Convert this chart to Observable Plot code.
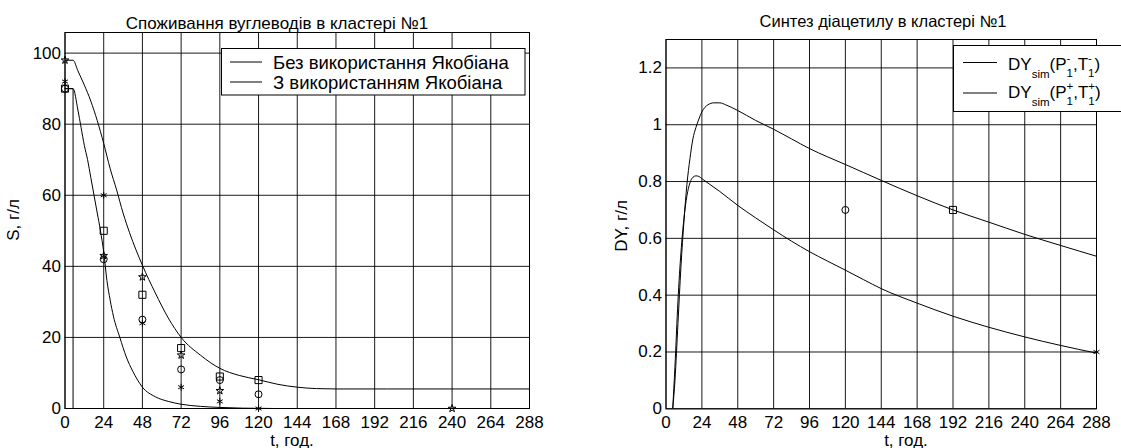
<!DOCTYPE html>
<html>
<head>
<meta charset="utf-8">
<script src="https://cdn.jsdelivr.net/npm/d3@7"></script>
<script src="https://cdn.jsdelivr.net/npm/@observablehq/plot@0.6"></script>
<style>
  html, body { margin: 0; padding: 0; background: #fff; overflow: hidden; }
  #wrap { position: relative; width: 1121px; height: 448px; }
  #left { position: absolute; left: 0; top: 0; }
  #right { position: absolute; left: 560px; top: 0; }
  svg text { font-family: "Liberation Sans", Arial, sans-serif; }
</style>
</head>
<body>
<div id="wrap"><div id="left"></div><div id="right"></div></div>
<script>
// ---------- data ----------
const tTicks = [0, 24, 48, 72, 96, 120, 144, 168, 192, 216, 240, 264, 288];
const sTicks = [0, 20, 40, 60, 80, 100];
const dyTicks = [0, 0.2, 0.4, 0.6, 0.8, 1, 1.2];

const titleLeft = "Споживання вуглеводів в кластері №1";
const titleRight = "Синтез діацетилу в кластері №1";
const xLabel = "t, год.";
const yLabelLeft = "S, г/л";
const yLabelRight = "DY, г/л";
const legendLeft = ["Без використання Якобіана", "З використанням Якобіана"];

// Left: substrate curves
const sNoJacT = [0, 5, 8, 12, 16, 20, 24, 28, 32, 36, 40, 48, 56, 64, 72, 84, 96, 108, 120, 132, 144, 156, 168, 200, 240, 288];
const sNoJacV = [98, 98, 95, 91, 86.5, 81, 74.6, 67.5, 61.5, 55, 49.5, 40.3, 32.5, 25.5, 20, 15, 11.3, 9.3, 8.1, 6.8, 6.0, 5.6, 5.5, 5.5, 5.5, 5.5];
const sJacT = [0, 5, 8, 10, 12, 14, 16, 18, 20, 22, 24, 26, 28, 30, 34, 38, 42, 48, 56, 64, 72, 84, 96, 110, 130, 288];
const sJacV = [90, 90, 84, 79, 74, 70, 65, 60, 55, 50, 44, 36, 30.5, 26, 20, 14.5, 10.5, 6, 3.3, 2.0, 1.2, 0.6, 0.3, 0.1, 0, 0];
const sStepT = [0, 5, 5, 288];
const sStepV = [90, 90, 0, 0];

// Left: experimental markers
const obsT = [0, 24, 48, 72, 96, 120];
const circleS = [90, 42, 25, 11, 8, 4];
const squareS = [90, 50, 32, 17, 9, 8];
const asteriskS = [92, 60, 24, 6, 2, 0];
const starT = [0, 24, 48, 72, 96, 240];
const starS = [98, 43, 37, 15, 5, 0];

// Right: diacetyl curves
const dyAT = [4.5, 6, 8, 10, 12, 14, 16, 18, 20, 22, 24, 28, 32, 36, 40, 48, 60, 72, 84, 96, 108, 120, 132, 144, 168, 192, 216, 240, 264, 288];
const dyAV = [0, 0.1, 0.3, 0.5, 0.66, 0.79, 0.88, 0.95, 0.99, 1.02, 1.045, 1.07, 1.077, 1.077, 1.07, 1.05, 1.015, 0.984, 0.95, 0.916, 0.887, 0.86, 0.832, 0.804, 0.75, 0.70, 0.657, 0.614, 0.575, 0.537];
const dyBT = [4.5, 6, 8, 10, 12, 14, 16, 18, 20, 22, 24, 36, 48, 60, 72, 84, 96, 108, 120, 132, 144, 168, 192, 216, 240, 264, 288];
const dyBV = [0, 0.15, 0.38, 0.55, 0.67, 0.75, 0.795, 0.815, 0.82, 0.818, 0.81, 0.765, 0.716, 0.672, 0.630, 0.59, 0.553, 0.52, 0.488, 0.455, 0.423, 0.372, 0.326, 0.287, 0.253, 0.223, 0.196];
const dyCircleT = [120], dyCircleV = [0.7];
const dySquareT = [192], dySquareV = [0.7];
const dyAsterT = [288], dyAsterV = [0.2];

// ---------- helpers ----------
const pts = (ts, vs) => ts.map((t, i) => ({t, v: vs[i]}));
const FONT = "'Liberation Sans', Arial, sans-serif";
const FS = 17;

function dots(ts, vs, symbol, r = 3.5) {
  return Plot.dot(pts(ts, vs), {x: "t", y: "v", symbol, r, stroke: "black", fill: "none", strokeWidth: 1});
}
function curve(ts, vs, c = "monotone-x") {
  return Plot.line(pts(ts, vs), {x: "t", y: "v", stroke: "black", strokeWidth: 1, curve: c, clip: true});
}

function makeChart({width, mL, mR, mT, mB, yDomain, yTicks, marks}) {
  return Plot.plot({
    width, height: 448,
    marginLeft: mL, marginRight: mR, marginTop: mT, marginBottom: mB,
    style: {fontFamily: FONT, fontSize: FS + "px", color: "black", background: "white", overflow: "visible"},
    x: {domain: [0, 288], ticks: tTicks, tickSize: 0, tickPadding: 7, label: null, tickFormat: d => String(d)},
    y: {domain: yDomain, ticks: yTicks, tickSize: 0, tickPadding: 4, label: null, tickFormat: d => String(+d.toFixed(2))},
    marks: [
      Plot.gridX(tTicks, {stroke: "black", strokeOpacity: 0.9, strokeWidth: 1}),
      Plot.gridY(yTicks, {stroke: "black", strokeOpacity: 0.9, strokeWidth: 1}),
      ...marks,
      Plot.frame({stroke: "black", strokeWidth: 1})
    ]
  });
}

function addText(svg, x, y, txt, opts = {}) {
  const t = svg.append("text")
    .attr("x", x).attr("y", y)
    .attr("font-family", FONT)
    .attr("font-size", opts.fs || FS)
    .attr("text-anchor", opts.anchor || "start")
    .attr("fill", "black")
    .text(txt);
  if (opts.rotate) t.attr("transform", `rotate(-90,${x},${y})`);
  return t;
}

function richText(g, x, y, parts, fs) {
  let cx = x;
  const small = 11.5;
  for (const p of parts) {
    if (p.stack) {
      const a = addText(g, cx, y - 8, p.sup, {fs: small});
      const b = addText(g, cx, y + 7, p.sub, {fs: small});
      cx += Math.max(a.node().getComputedTextLength(), b.node().getComputedTextLength());
    } else if (p.sub) {
      const t = addText(g, cx, y + 8, p.t, {fs: small});
      cx += t.node().getComputedTextLength();
    } else {
      const t = addText(g, cx, y, p.t, {fs});
      cx += t.node().getComputedTextLength();
    }
  }
}

// ---------- left chart ----------
const left = makeChart({
  width: 560, mL: 64.5, mR: 31, mT: 32, mB: 40,
  yDomain: [0, 105.8], yTicks: sTicks,
  marks: [
    curve(sStepT, sStepV, "linear"),
    curve(sNoJacT, sNoJacV),
    curve(sJacT, sJacV),
    dots(obsT, circleS, "circle", 3.5),
    dots(obsT, squareS, "square", 4),
    dots(obsT, asteriskS, "asterisk", 3.2),
    dots(starT, starS, "star", 2.4)
  ]
});
document.getElementById("left").appendChild(left);
{
  const svg = d3.select(left);
  addText(svg, 277, 29, titleLeft, {anchor: "middle"});
  addText(svg, 292, 446, xLabel, {anchor: "middle"});
  addText(svg, 19, 220, yLabelLeft, {anchor: "middle", rotate: true});
  const g = svg.append("g");
  g.append("rect").attr("x", 221.5).attr("y", 48.5).attr("width", 303.5).attr("height", 46.5)
    .attr("fill", "white").attr("stroke", "black");
  [62, 82].forEach((yy, i) => {
    g.append("line").attr("x1", 230).attr("x2", 262).attr("y1", yy).attr("y2", yy).attr("stroke", "black");
    addText(g, 273, yy + 6.5, legendLeft[i], {fs: 18.5});
  });
}

// ---------- right chart ----------
const right = makeChart({
  width: 561, mL: 105.5, mR: 25, mT: 39, mB: 39.7,
  yDomain: [0, 1.3], yTicks: dyTicks,
  marks: [
    curve(dyAT, dyAV),
    curve(dyBT, dyBV),
    dots(dyCircleT, dyCircleV, "circle", 3.5),
    dots(dySquareT, dySquareV, "square", 4),
    dots(dyAsterT, dyAsterV, "asterisk", 3.2)
  ]
});
document.getElementById("right").appendChild(right);
{
  const svg = d3.select(right);
  const ox = 560;
  addText(svg, 883 - ox, 27, titleRight, {anchor: "middle", fs: 16.5});
  addText(svg, 906 - ox, 446, xLabel, {anchor: "middle"});
  addText(svg, 627 - ox, 226, yLabelRight, {anchor: "middle", rotate: true});
  const g = svg.append("g");
  g.append("rect").attr("x", 953.5 - ox).attr("y", 45.5).attr("width", 200).attr("height", 66)
    .attr("fill", "white").attr("stroke", "black");
  const rows = [
    {y: 62.5, base: 70, s: "-"},
    {y: 93, base: 98, s: "+"}
  ];
  rows.forEach(r => {
    g.append("line").attr("x1", 963 - ox).attr("x2", 997 - ox).attr("y1", r.y).attr("y2", r.y).attr("stroke", "black");
    richText(g, 1008 - ox, r.base, [
      {t: "DY"}, {t: "sim", sub: true}, {t: "(P"}, {stack: true, sup: r.s, sub: "1"},
      {t: ",T"}, {stack: true, sup: r.s, sub: "1"}, {t: ")"}
    ], FS);
  });
}
</script>
</body>
</html>
